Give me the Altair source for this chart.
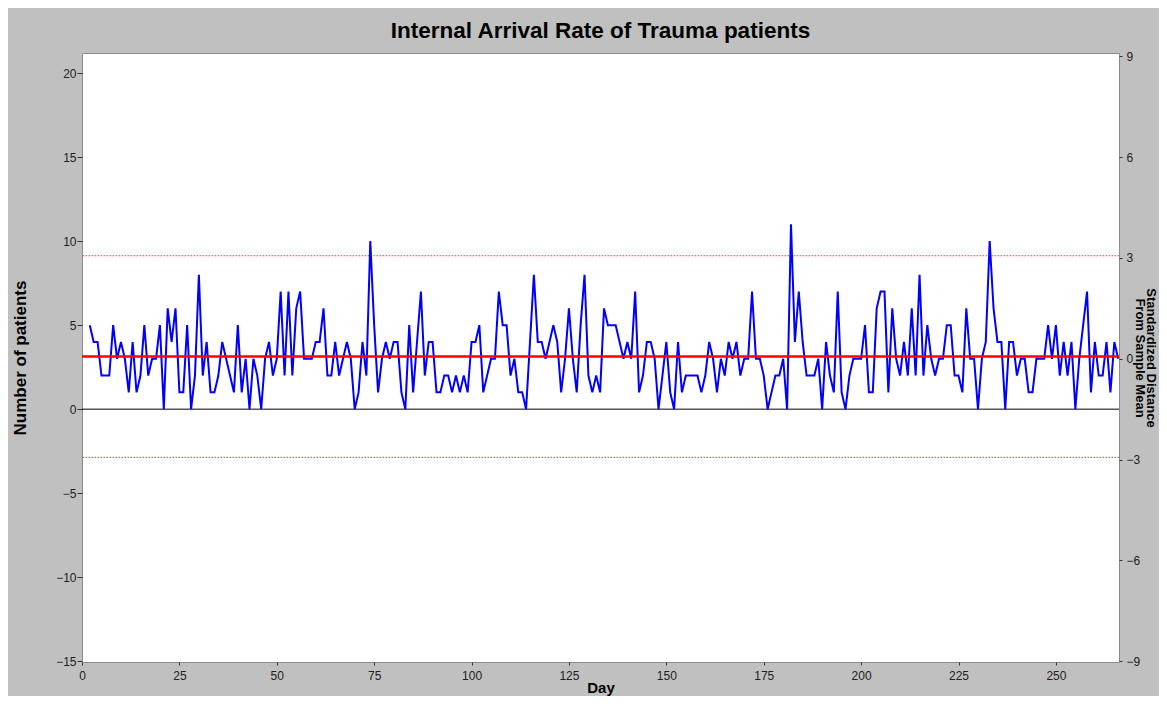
import altair as alt
import pandas as pd

# ---- data ----
start_day = 2
counts_a = [5, 4, 4, 2, 2, 2, 5, 3, 4, 3, 1, 4, 1, 2, 5, 2, 3, 3, 5, 0, 6, 4, 6, 1, 1, 5, 0, 2, 8, 2, 4, 1, 1]
counts_b = [2, 4, 3, 2, 1, 5, 1, 3, 0, 3, 2, 0, 3, 4, 2, 3, 7, 2, 7, 2, 6, 7, 3, 3, 3, 4, 4, 6, 2, 2, 4, 2]
counts_c = [3, 4, 3, 0, 1, 4, 2, 10, 5, 1, 3, 4, 3, 4, 4, 1, 0, 5, 1, 4, 7, 2, 4, 4, 1, 1, 2, 2, 1, 2, 1, 2, 1, 4, 4]
counts_d = [5, 1, 2, 3, 3, 7, 5, 5, 2, 3, 1, 1, 0, 4, 8, 4, 4, 3, 4, 5, 4, 1, 3, 6, 3, 1, 5, 8, 2, 1, 2, 1, 6]
counts_e = [5, 5, 5, 4, 3, 4, 3, 7, 1, 2, 4, 4, 3, 0, 2, 4, 1, 0, 4, 1, 2, 2, 2, 2, 1, 2, 4, 3, 1, 3, 2, 4, 3]
counts_f = [4, 2, 3, 3, 7, 3, 3, 2, 0, 1, 2, 2, 3, 0, 11, 4, 7, 4, 2, 2, 2, 3, 0, 4, 2, 1, 7, 1, 0, 2, 3, 3, 3, 5]
counts_g = [1, 1, 6, 7, 7, 1, 6, 3, 2, 4, 2, 6, 2, 8, 2, 5, 3, 2, 3, 3, 5, 5, 2, 2, 1, 6, 3, 3, 0, 3, 4, 10]
counts_h = [6, 4, 4, 0, 4, 4, 2, 3, 3, 1, 1, 3, 3, 3, 5, 3, 5, 2, 4, 2, 4, 0, 3, 5, 7, 1, 4, 2, 2, 4, 1, 4, 3]

counts = counts_a + counts_b + counts_c + counts_d + counts_e + counts_f + counts_g + counts_h
days = list(range(start_day, start_day + len(counts)))

MEAN = sum(counts) / len(counts)
SIGMA = 2.0  # spacing of the limit lines

x_ticks = [0, 25, 50, 75, 100, 125, 150, 175, 200, 225, 250]
y_ticks = [-15, -10, -5, 0, 5, 10, 15, 20]
z_ticks = [-9, -6, -3, 0, 3, 6, 9]

df = pd.DataFrame({"day": days, "n": counts})

FONT = "Liberation Sans"

x_enc = alt.X(
    "day:Q",
    scale=alt.Scale(domain=[0, 266.2], nice=False, zero=False),
    axis=alt.Axis(values=x_ticks, title="Day", tickSize=3, labelPadding=5,
                  titlePadding=-1, labelFlush=False, titleFontSize=15),
)
y_scale = alt.Scale(domain=[-15.05, 21.2], nice=False, zero=False)

line = alt.Chart(df).mark_line(color="#0000ff", strokeWidth=2).encode(
    x=x_enc,
    y=alt.Y("n:Q", scale=y_scale,
            axis=alt.Axis(values=y_ticks, title="Number of patients", tickSize=5,
                          labelPadding=1, titlePadding=26, labelFlush=False)),
)

zero_rule = alt.Chart(pd.DataFrame({"n": [0]})).mark_rule(color="black", strokeWidth=1).encode(
    y=alt.Y("n:Q")
)
mean_rule = alt.Chart(pd.DataFrame({"n": [MEAN]})).mark_rule(color="#ff0000", strokeWidth=2.5).encode(
    y=alt.Y("n:Q")
)
limit_rules = alt.Chart(pd.DataFrame({"n": [MEAN + 3 * SIGMA, MEAN - 3 * SIGMA]})).mark_rule(
    color="#ff0000", strokeWidth=1, strokeDash=[1.5, 1.5], opacity=0.8
).encode(y=alt.Y("n:Q"))

left = alt.layer(zero_rule, limit_rules, line, mean_rule)

right = alt.Chart(pd.DataFrame({"r": [0]})).mark_rule(opacity=0).encode(
    y=alt.Y("r:Q", scale=alt.Scale(domain=[-9.025, 9.1], nice=False, zero=False),
            axis=alt.Axis(orient="right", values=z_ticks,
                          title=["Standardized Distance", "From Sample Mean"],
                          titleAngle=90, titleLineHeight=11, titleFontSize=13,
                          tickSize=3, labelPadding=4, titlePadding=-7,
                          labelFlush=False))
)

chart = (
    alt.layer(left, right)
    .resolve_scale(y="independent")
    .properties(
        width=1037,
        height=609,
        padding={"left": 74, "top": 45, "right": 40, "bottom": 34},
        autosize=alt.AutoSizeParams(type="none"),
        background="#c0c0c0",
        title=alt.TitleParams("Internal Arrival Rate of Trauma patients", font=FONT,
                              fontSize=22.5, fontWeight="bold", color="black",
                              anchor="middle", offset=8),
    )
    .configure_view(fill="white", stroke="#8c8c8c", strokeWidth=1)
    .configure_axis(labelFont=FONT, labelFontSize=12, labelColor="#222222",
                    titleFont=FONT, titleFontSize=17, titleFontWeight="bold",
                    titleColor="black", tickColor="#333333", grid=False, domain=False)
)

chart.save("out.html", embed_options={"renderer": "svg", "actions": False})
